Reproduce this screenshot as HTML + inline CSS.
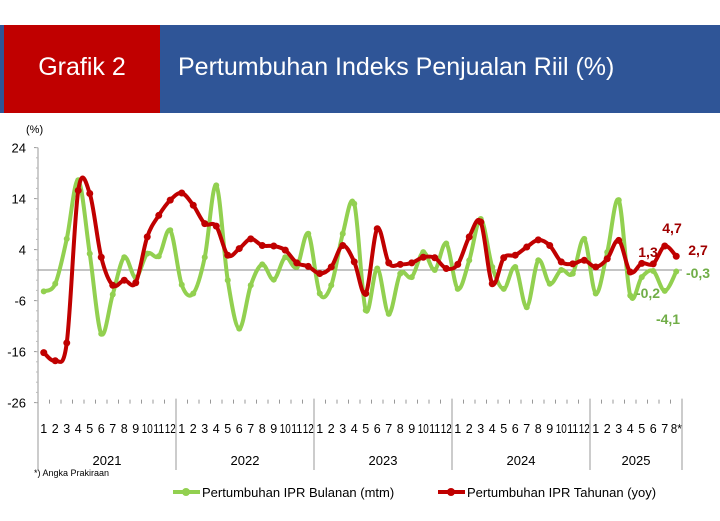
<!DOCTYPE html>
<html><head><meta charset="utf-8"><style>
body{margin:0;background:#fff;width:720px;height:521px;overflow:hidden;font-family:"Liberation Sans",sans-serif}
#hdr{position:absolute;left:0;top:25px;width:720px;height:88px;background:#2f5597}
#tag{position:absolute;left:4px;top:0;width:156px;height:88px;background:#c00000;color:#fff;font-size:25px;line-height:84px;text-align:center}
#ttl{position:absolute;left:178px;top:0;color:#fff;font-size:25px;line-height:84px}
svg{position:absolute;left:0;top:0}
</style></head><body>
<div id="hdr">
<div id="tag">Grafik 2</div>
<div id="ttl">Pertumbuhan Indeks Penjualan Riil (%)</div>
</div>
<svg id="c" width="720" height="521"></svg>
<script>
const years=["2021","2022","2023","2024","2025"];
const monthsPerYear=[12,12,12,12,8];
const yTicks=[24,14,4,-6,-16,-26];
const mtm=[-4.2,-2.7,6.1,17.6,3.2,-12.5,-4.8,2.5,-1.5,3.2,2.7,7.8,
-2.9,-4.6,2.5,16.6,-2,-11.5,-3,1.1,-1.9,2.5,0.6,7.1,
-4.6,-3,7.1,13,-7.9,0.3,-8.6,-0.7,-1.4,3.5,0,5.2,
-3.7,1.9,10,0.6,-3.7,0.6,-7.3,1.9,-2.7,0,-0.7,6.1,
-4.6,3.5,13.7,-5,-1.4,-0.2,-4.1,-0.3];
const yoy=[-16.2,-17.8,-14.3,15.6,15,2.5,-3,-2,-2.5,6.5,10.7,13.7,
15.1,12.7,9.1,8.6,2.9,4.2,6.1,4.8,4.7,3.9,1.4,0.7,
-0.7,0.6,4.8,1.6,-4.6,8.1,1.4,1.1,1.4,2.5,2.4,0.3,
1.1,6.5,9.4,-2.7,2.4,2.9,4.5,5.9,4.8,1.6,1.2,1.9,
0.6,2.2,5.8,-0.4,1.3,1.2,4.7,2.7];
const NS="http://www.w3.org/2000/svg",svg=document.getElementById('c');
const X0=38,DX=11.5,Y0=270,K=5.1;
const N=mtm.length;
const x=i=>X0+(i+0.5)*DX, y=v=>Y0-v*K;
function el(t,a,txt){const e=document.createElementNS(NS,t);for(const k in a)e.setAttribute(k,a[k]);if(txt!==undefined)e.textContent=txt;svg.appendChild(e);return e;}
const xEnd=X0+N*DX;
let e=el('line',{x1:X0,y1:y(24),x2:X0,y2:y(-26),stroke:'#999'});


yTicks.forEach(t=>{
 let l=el('line',{x1:X0-4,x2:X0,y1:y(t),y2:y(t),stroke:'#999'});
 
 
 let tx=el('text',{x:X0-12,y:y(t)+5,'text-anchor':'end','font-size':13,fill:'#000'},t);
 
 
});
for(let v=24;v>=-26;v-=2){let l=el('line',{x1:X0-2,x2:X0,y1:y(v),y2:y(v),stroke:'#bbb'});}
e=el('text',{x:26,y:133,'font-size':11},'(%)');


e=el('line',{x1:X0,x2:xEnd,y1:y(0),y2:y(0),stroke:'#888'});


for(let i=0;i<N;i++){let l=el('line',{x1:x(i)+DX/2,x2:x(i)+DX/2,y1:y(-26)-3,y2:y(-26)+1,stroke:'#999'});}
let idx=0;
years.forEach((yr,j)=>{
 const s=X0+idx*DX;
 let l=el('line',{x1:s,x2:s,y1:y(-26)-4,y2:470,stroke:'#999'});
 
 
 for(let m=1;m<=monthsPerYear[j];m++){
  const lab=(j==years.length-1&&m==monthsPerYear[j])?m+'*':String(m);
  let t=el('text',{x:x(idx+m-1),y:433,'text-anchor':'middle','font-size':12.5,'textLength':11,'lengthAdjust':'spacingAndGlyphs'},lab);
  if(lab.length<2)t.removeAttribute('textLength');
  
  
 }
 const c=X0+(idx+monthsPerYear[j]/2)*DX;
 let t=el('text',{x:c,y:465,'text-anchor':'middle','font-size':13},yr);
 
 
 idx+=monthsPerYear[j];
});
e=el('line',{x1:xEnd,x2:xEnd,y1:y(-26)-4,y2:470,stroke:'#999'});


e=el('text',{x:34,y:476,'font-size':9},'*) Angka  Prakiraan');


function smooth(pts){
 let d='M'+pts[0][0]+','+pts[0][1];
 for(let i=0;i<pts.length-1;i++){
  const p0=pts[Math.max(0,i-1)],p1=pts[i],p2=pts[i+1],p3=pts[Math.min(pts.length-1,i+2)];
  const t=1/6;
  d+=' C'+(p1[0]+(p2[0]-p0[0])*t)+','+(p1[1]+(p2[1]-p0[1])*t)+' '+(p2[0]-(p3[0]-p1[0])*t)+','+(p2[1]-(p3[1]-p1[1])*t)+' '+p2[0]+','+p2[1];
 }
 return d;
}
function series(d,col,r,nm){
 const p=el('path',{d:smooth(d.map((v,i)=>[x(i),y(v)])),fill:'none',stroke:col,'stroke-width':4,'stroke-linejoin':'round'});
 
 
 d.forEach((v,i)=>{const c=el('circle',{cx:x(i),cy:y(v),r:r,fill:col});
 
 });
}
series(mtm,'#92d050',3,'mtm');
series(yoy,'#c00000',3.5,'yoy');
function lab(tx,xx,yy,col,nm){const t=el('text',{x:xx,y:yy,'font-size':14,'font-weight':'bold',fill:col,'text-anchor':'middle'},tx);}
lab('4,7',672,233,'#a00000','label-yoy-aug');
lab('2,7',698,255,'#a00000','label-yoy-final');
lab('1,3',648,257,'#a00000','label-yoy-jun');
lab('-0,3',698,278,'#70ad47','label-mtm-final');
lab('-0,2',648,298,'#70ad47','label-mtm-jun');
lab('-4,1',668,324,'#70ad47','label-mtm-jul');
function leg(x0,col,txt,nm){
 const g=el('line',{x1:x0,x2:x0+27,y1:492,y2:492,stroke:col,'stroke-width':4});
 
 
 const c=el('circle',{cx:x0+13,cy:492,r:4,fill:col});
 
 
 const t=el('text',{x:x0+29,y:497,'font-size':13},txt);
 
 
}
leg(173,'#92d050','Pertumbuhan IPR Bulanan (mtm)','mtm');
leg(438,'#c00000','Pertumbuhan IPR Tahunan (yoy)','yoy');
</script>
</body></html>
